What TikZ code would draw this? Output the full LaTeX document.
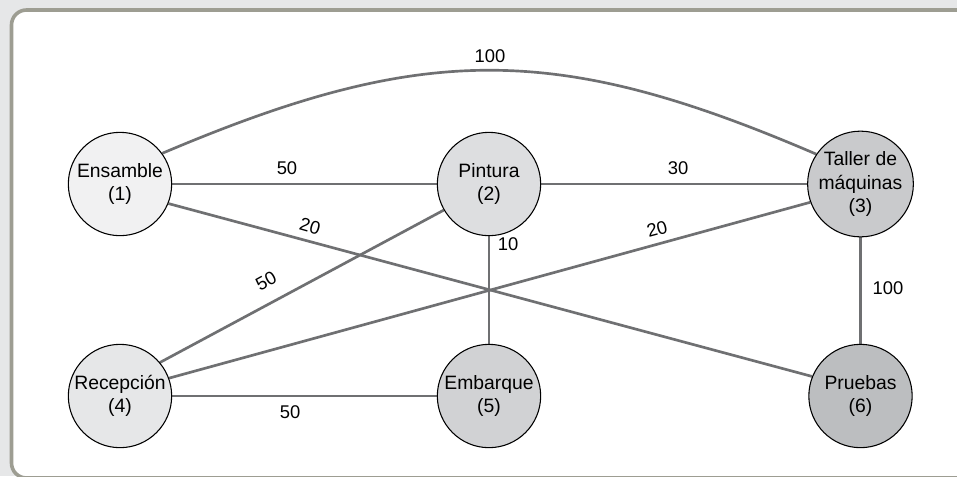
\documentclass[tikz,border=0pt]{standalone}
\usepackage{fontspec}
\setmainfont{Liberation Sans}
\usetikzlibrary{backgrounds}
\definecolor{bggray}{HTML}{E6E7E8}
\definecolor{framegray}{HTML}{9D9D92}
\definecolor{edgegray}{HTML}{6F7072}
\definecolor{fA}{HTML}{F1F1F2}
\definecolor{fB}{HTML}{DDDEE0}
\definecolor{fC}{HTML}{C9CACC}
\definecolor{fD}{HTML}{E6E7E8}
\definecolor{fE}{HTML}{D1D2D4}
\definecolor{fF}{HTML}{BCBEC0}
\begin{document}
\begin{tikzpicture}[x=0.75pt,y=-0.75pt,
  station/.style={circle,draw=black,line width=0.8pt,minimum size=77.5pt,inner sep=0pt,
    align=center,font=\fontsize{14.5}{17.5}\selectfont},
  edge/.style={draw=edgegray,line width=2pt},
  wlabel/.style={font=\fontsize{13.8}{16}\selectfont,inner sep=0pt}]
\useasboundingbox (0,0) rectangle (957,476);
% nodes
\node[station,fill=fA] (ens) at (120,184) {Ensamble\\(1)};
\node[station,fill=fB] (pin) at (489,184) {Pintura\\(2)};
\node[station,fill=fC] (tal) at (860.5,184) {Taller de\\máquinas\\(3)};
\node[station,fill=fD] (rec) at (120,396) {Recepción\\(4)};
\node[station,fill=fE] (emb) at (489,396) {Embarque\\(5)};
\node[station,fill=fF] (pru) at (860.5,396) {Pruebas\\(6)};
\begin{pgfonlayer}{background}
\fill[bggray] (0,0) rectangle (957,476);
\begin{scope}
\clip (0,0) rectangle (957,476);
\draw[framegray,fill=white,line width=2.7pt,rounded corners=11.25pt] (11.5,10) rectangle (990,478);
\end{scope}
% edges
\draw[edge] (ens.36) .. controls (423.5,42.4) and (556.5,42.4) .. (tal.146);
\draw[edge] (ens.east) -- (pin.west);
\draw[edge] (pin.east) -- (tal.west);
\draw[edge] (ens.338) -- (pru.158);
\draw[edge] (pin.210) -- (rec.40);
\draw[edge] (tal.200) -- (rec.20);
\draw[edge] (pin.south) -- (emb.north);
\draw[edge] (tal.south) -- (pru.north);
\draw[edge] (rec.east) -- (emb.west);
\end{pgfonlayer}
% labels
\node[wlabel] (l13) at (490,56) {100};
\node[wlabel] (l12) at (287,168) {50};
\node[wlabel] (l23) at (678,168) {30};
\node[wlabel,rotate=-16] (l16) at (310,226) {20};
\node[wlabel,rotate=29] (l24) at (266,281) {50};
\node[wlabel,rotate=15] (l34) at (657,229) {20};
\node[wlabel] (l25) at (508,244) {10};
\node[wlabel] (l36) at (888,288) {100};
\node[wlabel] (l45) at (290,412) {50};
\end{tikzpicture}
\end{document}
